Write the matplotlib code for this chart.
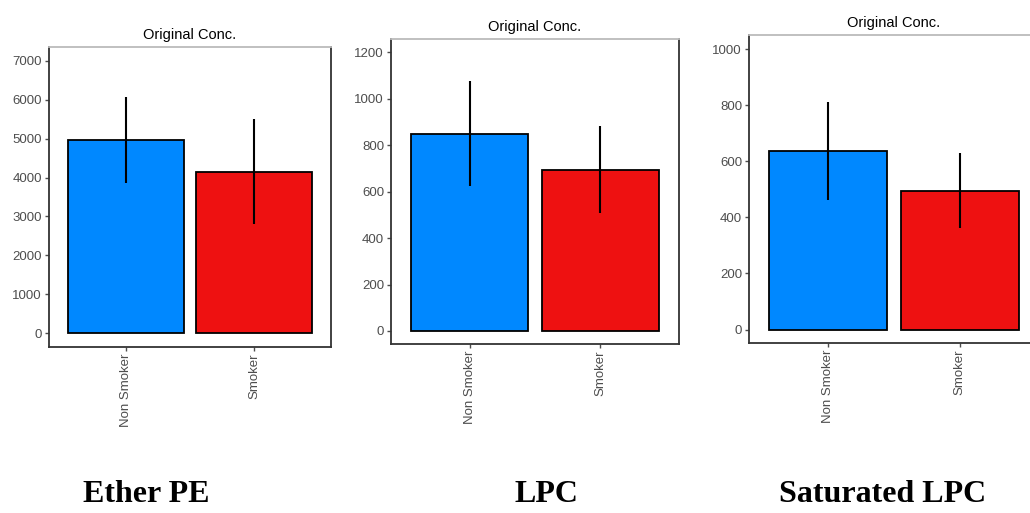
import numpy as np
import matplotlib.pyplot as plt

groups = ['Non Smoker', 'Smoker']
bar_colors = ['#0088FF', '#EE1111']

titles = ['Ether PE', 'LPC', 'Saturated LPC']
means_ether = [4975, 4155]
sd_ether = [1105, 1360]
means_lpc = [850, 695]
sd_lpc = [225, 186]
means_sat = [636, 496]
sd_sat = [175, 134]

yticks_ether = np.arange(0, 7001, 1000)
yticks_lpc = np.arange(0, 1201, 200)
yticks_sat = np.arange(0, 1001, 200)

W, H = 1030, 513
fig = plt.figure(figsize=(W / 100, H / 100), dpi=100)

# pixel boxes of each panel: left, right, top, bottom
boxes = [(49, 331, 47, 347), (391, 679, 39, 344), (749, 1039, 35, 343)]
ylims = [(-360, 7360), (-56, 1257), (-48, 1051)]
label_x = [146, 546, 883]

panels = [(means_ether, sd_ether, yticks_ether),
          (means_lpc, sd_lpc, yticks_lpc),
          (means_sat, sd_sat, yticks_sat)]

for i, (m, s, yt) in enumerate(panels):
    l, r, t, b = boxes[i]
    ax = fig.add_axes([l / W, (H - b) / H, (r - l) / W, (b - t) / H])
    x = np.arange(1, len(groups) + 1)
    ax.bar(x, m, width=0.9, color=bar_colors, edgecolor='black', linewidth=1.3, zorder=2)
    ax.errorbar(x, m, yerr=s, fmt='none', ecolor='black', elinewidth=1.5, capsize=0, zorder=3)
    ax.set_xlim(0.4, 2.6)
    ax.set_ylim(*ylims[i])
    ax.set_xticks(x)
    ax.set_xticklabels(groups, rotation=90, va='top', ha='center')
    ax.set_yticks(yt)
    ax.tick_params(axis='both', colors='#4D4D4D', labelsize=9.5, length=3, width=1, pad=2)
    for lab in ax.get_xticklabels() + ax.get_yticklabels():
        lab.set_family('Liberation Sans')
        lab.set_color('#4D4D4D')
    for side in ['left', 'bottom', 'right']:
        ax.spines[side].set_color('#333333')
        ax.spines[side].set_linewidth(1.3)
    ax.spines['top'].set_color('#BBBBBB')
    ax.spines['top'].set_linewidth(1.3)
    ax.set_title('Original Conc.', fontsize=10.5, family='Liberation Sans', pad=6)
    fig.text(label_x[i] / W, 1 - 494 / H, titles[i], ha='center', va='center',
             fontsize=23, fontweight='bold', family='Liberation Serif')

fig.savefig('out.png', dpi=100)
